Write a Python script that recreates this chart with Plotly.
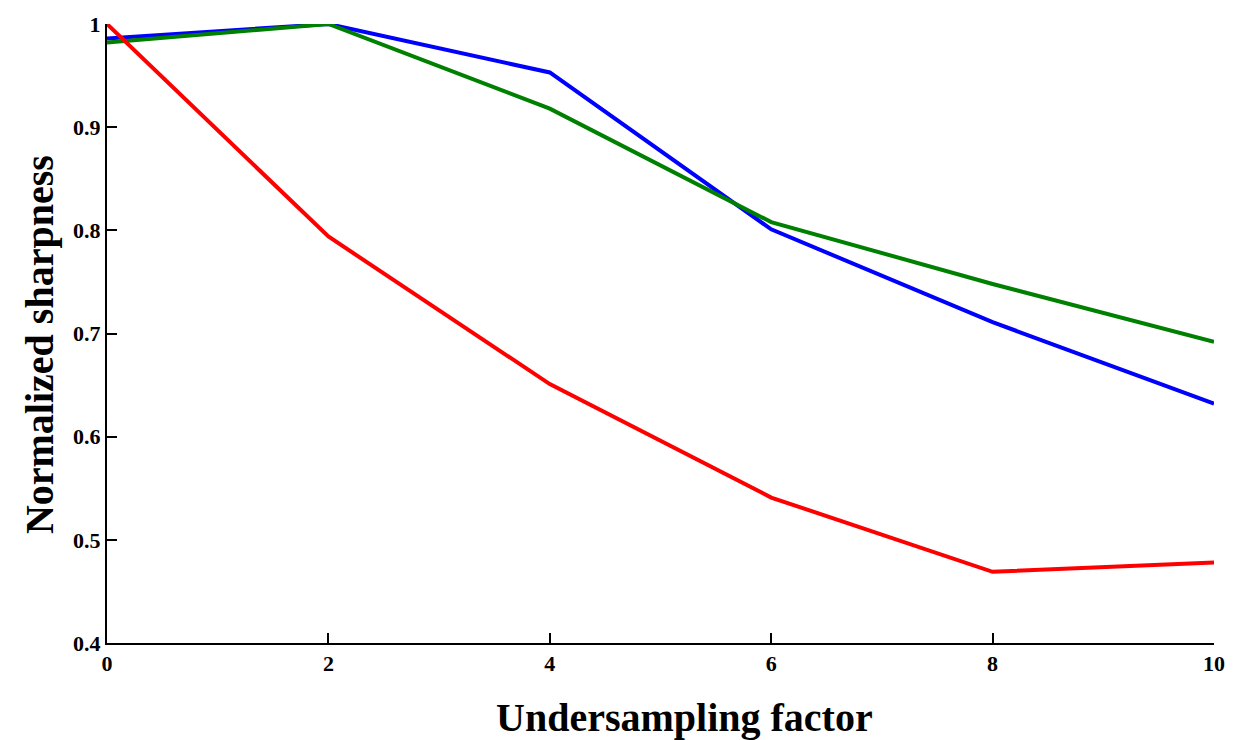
import plotly.graph_objects as go

x_vals = [0, 2, 4, 6, 8, 10]
red_vals = [1.0, 0.794, 0.651, 0.541, 0.469, 0.478]
blue_vals = [0.986, 1.0, 0.953, 0.801, 0.711, 0.632]
green_vals = [0.982, 1.0, 0.918, 0.808, 0.748, 0.692]
x_ticks = [0, 2, 4, 6, 8, 10]
y_ticks = [0.4, 0.5, 0.6, 0.7, 0.8, 0.9, 1.0]
y_tick_text = ["0.4", "0.5", "0.6", "0.7", "0.8", "0.9", "1"]

font_family = "Liberation Serif"

fig = go.Figure()
for vals, color in [(blue_vals, "#0000ff"), (green_vals, "#008000"), (red_vals, "#ff0000")]:
    fig.add_trace(go.Scatter(x=x_vals, y=vals, mode="lines",
                             line=dict(color=color, width=4), showlegend=False,
                             cliponaxis=True))

axis_common = dict(showgrid=False, zeroline=False, showline=True, linecolor="black",
                   linewidth=2, ticks="inside", ticklen=10, tickwidth=2, tickcolor="black",
                   mirror=False, ticklabeloverflow="allow",
                   tickfont=dict(family=font_family, size=22, color="black", weight="bold"))

fig.update_layout(
    width=1237, height=740,
    margin=dict(l=107, r=13, t=23, b=97),
    plot_bgcolor="white", paper_bgcolor="white",
    xaxis=dict(range=[0, 10], tickvals=x_ticks, ticktext=[str(v) for v in x_ticks], **axis_common),
    yaxis=dict(range=[0.4, 1.0], tickvals=y_ticks, ticktext=y_tick_text,
               ticklabelstandoff=0, **axis_common),
    annotations=[
        dict(text="<b>Undersampling factor</b>", xref="paper", yref="paper",
             x=0.522, y=-0.121, showarrow=False, xanchor="center", yanchor="middle",
             font=dict(family=font_family, size=40, color="black")),
        dict(text="<b>Normalized sharpness</b>", xref="paper", yref="paper",
             x=-0.061, y=0.482, showarrow=False, xanchor="center", yanchor="middle",
             textangle=-90, font=dict(family=font_family, size=40, color="black")),
    ],
)

fig.write_html("out.html", config={"displayModeBar": False},
               post_script="document.body.style.margin='0';document.body.style.padding='0';document.body.style.overflow='hidden';")
